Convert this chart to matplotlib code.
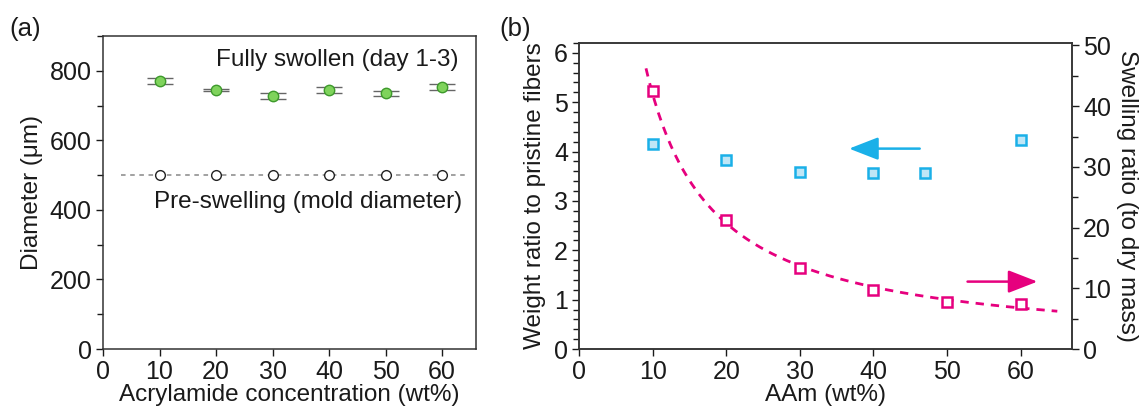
import numpy as np
import matplotlib
matplotlib.use("Agg")
import matplotlib.pyplot as plt
from matplotlib.ticker import MultipleLocator

plt.rcParams['font.family'] = ['Liberation Sans', 'DejaVu Sans']
plt.rcParams['font.size'] = 17.5
plt.rcParams['xtick.labelsize'] = 18
plt.rcParams['ytick.labelsize'] = 18

# --- dane: panel (a) ---
conc_a = [10, 20, 30, 40, 50, 60]
swollen = [771, 745, 728, 745, 735, 753]
swollen_err = [8, 3, 8, 8, 8, 8]
pre_swell = [500, 500, 500, 500, 500, 500]
mold_diameter = 500

# --- dane: panel (b) ---
conc_weight = [10, 20, 30, 40, 47, 60]
weight_ratio = [4.15, 3.83, 3.58, 3.56, 3.56, 4.23]
conc_swell = [10, 20, 30, 40, 50, 60]
swelling_ratio = [42.5, 21.2, 13.3, 9.8, 7.7, 7.4]

TEXT = "#1a1a1a"
GREEN_FACE = "#7fd35c"
GREEN_EDGE = "#3e9a2c"
BLUE = "#1ab0e8"
BLUE_FACE = "#bfe6f6"
PINK = "#e6007e"


def style_ticks(ax):
    ax.tick_params(which='both', direction='out', colors=TEXT, labelcolor=TEXT)
    ax.tick_params(which='major', length=5, width=1, pad=3)
    ax.tick_params(which='minor', length=4, width=1)
    for s in ax.spines.values():
        s.set_color("#333333")
        s.set_linewidth(1.1)


fig = plt.figure(figsize=(11.43, 4.08), dpi=100, facecolor="white")

# ===== panel (a) =====
ax1 = fig.add_axes([0.0901, 0.1446, 0.3264, 0.7672])
ax1.plot([3.2, 64.6], [mold_diameter, mold_diameter], ls=(0, (3, 3)), color="#888888", lw=1.1, zorder=1)
ax1.errorbar(conc_a, swollen, yerr=swollen_err, fmt='o', ms=7.5, mfc=GREEN_FACE, mec=GREEN_EDGE,
             mew=1.0, ecolor="#666666", elinewidth=1.0, capsize=9.5, capthick=1.2, zorder=3)
ax1.plot(conc_a, pre_swell, 'o', ms=7, mfc="white", mec="#222222", mew=1.0, zorder=3)
ax1.set_xlim(0, 66)
ax1.set_ylim(0, 900)
ax1.xaxis.set_major_locator(MultipleLocator(10))
ax1.yaxis.set_major_locator(MultipleLocator(200))
ax1.yaxis.set_minor_locator(MultipleLocator(100))
style_ticks(ax1)
ax1.tick_params(top=False, right=False, which='both')
ax1.set_xlabel("Acrylamide concentration (wt%)", color=TEXT, labelpad=0)
ax1.set_ylabel("Diameter (μm)", color=TEXT, labelpad=5)
ax1.text(62.9, 830, "Fully swollen (day 1-3)", ha="right", va="center", color=TEXT)
ax1.text(63.5, 423, "Pre-swelling (mold diameter)", ha="right", va="center", color=TEXT)
fig.text(0.008, 0.93, "(a)", fontsize=18.5, color=TEXT, va="center")

# ===== panel (b) =====
ax2 = fig.add_axes([0.5066, 0.1446, 0.4313, 0.750])
ax3 = ax2.twinx()
ax2.plot(conc_weight, weight_ratio, 's', ms=6.5, mfc=BLUE_FACE, mec=BLUE, mew=1.8, zorder=3)
ax3.plot(conc_swell, swelling_ratio, 's', ms=6.8, mfc="white", mec=PINK, mew=1.8, zorder=3)

# dopasowanie potęgowe do danych swelling ratio
p = np.polyfit(np.log(conc_swell), np.log(swelling_ratio), 1)
xf = np.linspace(9.1, 65, 200)
ax3.plot(xf, np.exp(np.polyval(p, np.log(xf))), ls=(0, (3, 2.5)), color=PINK, lw=2.0, zorder=2)

ax2.set_xlim(0, 67)
ax2.set_ylim(0, 6.2)
ax3.set_ylim(0, 50.4)
ax2.xaxis.set_major_locator(MultipleLocator(10))
ax2.yaxis.set_major_locator(MultipleLocator(1))
ax2.yaxis.set_minor_locator(MultipleLocator(0.2))
ax3.yaxis.set_major_locator(MultipleLocator(10))
ax3.yaxis.set_minor_locator(MultipleLocator(5))
style_ticks(ax2)
style_ticks(ax3)
ax2.set_xlabel("AAm (wt%)", color=TEXT, labelpad=0)
ax2.set_ylabel("Weight ratio to pristine fibers", color=TEXT, labelpad=6)
ax3.set_ylabel("Swelling ratio (to dry mass)", color=TEXT, rotation=270, labelpad=19)

ax2.annotate("", xy=(36.7, 4.06), xytext=(46.3, 4.06),
             arrowprops=dict(arrowstyle="-|>,head_length=0.9,head_width=0.35", color=BLUE,
                             lw=1.8, mutation_scale=20, shrinkA=0, shrinkB=0))
ax3.annotate("", xy=(62.3, 11.1), xytext=(52.8, 11.1),
             arrowprops=dict(arrowstyle="-|>,head_length=0.9,head_width=0.35", color=PINK,
                             lw=1.8, mutation_scale=20, shrinkA=0, shrinkB=0))
fig.text(0.437, 0.93, "(b)", fontsize=18.5, color=TEXT, va="center")

fig.savefig("out.png", dpi=100, facecolor="white")
